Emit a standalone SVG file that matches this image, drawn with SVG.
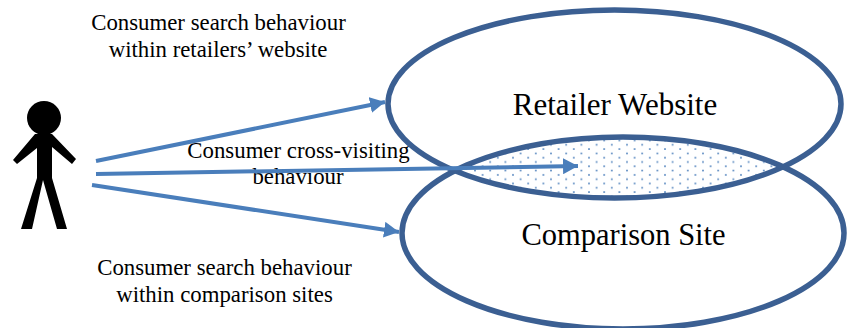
<svg xmlns="http://www.w3.org/2000/svg" width="848" height="328" viewBox="0 0 848 328">
<style>
text{font-family:"Liberation Serif",serif;fill:#000;text-anchor:middle}
.s{font-size:22.8px}
.l{font-size:31px}
.e{fill:none;stroke:#3b5f92;stroke-width:5.5}
.c{fill:none;stroke:#4a7ebb;stroke-width:4;marker-end:url(#a)}
</style>
<defs>
<marker id="a" markerUnits="userSpaceOnUse" markerWidth="16" markerHeight="16" refX="15" refY="8" orient="auto"><path d="M0 0L15 8L0 16z" fill="#4a7ebb"/></marker>
<pattern id="d" width="15.2" height="8.6" patternUnits="userSpaceOnUse"><rect x="10.6" y="2.1" width="1.6" height="1.6" fill="#4a7ebb"/><rect x="3" y="6.4" width="1.6" height="1.6" fill="#4a7ebb"/></pattern>
<clipPath id="cp"><ellipse cx="614.5" cy="104" rx="226.5" ry="94"/></clipPath>
</defs>
<g id="overlap"><ellipse cx="623" cy="233" rx="221" ry="96" fill="url(#d)" clip-path="url(#cp)"/></g>
<g id="retailer"><ellipse class="e" cx="614.5" cy="104" rx="226.5" ry="94"/><text class="l" x="615" y="115">Retailer Website</text></g>
<g id="comparison"><ellipse class="e" cx="623" cy="233" rx="221" ry="96"/><text class="l" x="623.5" y="245" style="font-size:30.5px">Comparison Site</text></g>
<g id="person">
<circle cx="44" cy="118" r="17"/>
<path d="M35 134H52L76 159L72 164L52 147V178L67 229H57L43 180L32 229H21L37 178V148L17 164L13 160z"/>
</g>
<g id="labels">
<text class="s" x="218.5" y="30">Consumer search behaviour</text>
<text class="s" x="218" y="57">within retailers’ website</text>
<text class="s" x="298.5" y="158">Consumer cross-visiting</text>
<text class="s" x="298" y="184">behaviour</text>
<text class="s" x="224.5" y="275">Consumer search behaviour</text>
<text class="s" x="224.5" y="302">within comparison sites</text>
</g>
<g id="connectors">
<path class="c" d="M96 161L385 102"/>
<path class="c" d="M96 174L578 166"/>
<path class="c" d="M92 185L399 232"/>
</g>
</svg>
